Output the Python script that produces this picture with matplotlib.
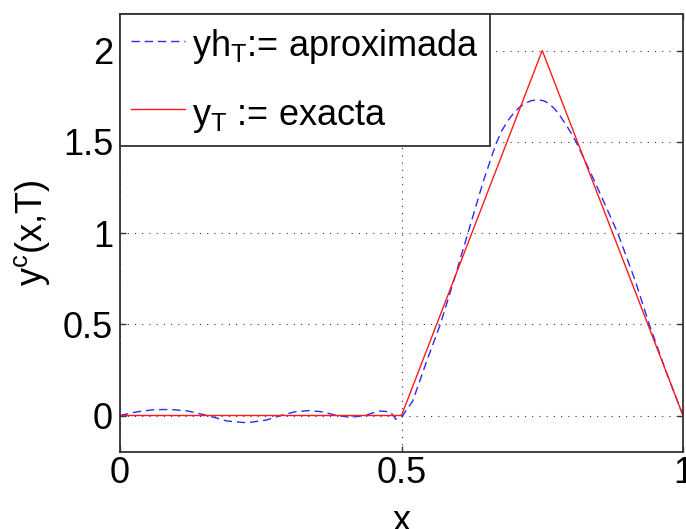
import matplotlib
matplotlib.use('Agg')
import matplotlib.pyplot as plt

plt.rcParams['font.family'] = ['Liberation Sans', 'DejaVu Sans']
plt.rcParams['mathtext.fontset'] = 'custom'
plt.rcParams['mathtext.rm'] = 'Liberation Sans'
plt.rcParams['mathtext.it'] = 'Liberation Sans'
plt.rcParams['mathtext.bf'] = 'Liberation Sans'

# exact solution (triangle)
x_exact = [0.0, 0.5, 0.75, 1.0]
y_exact = [0.0, 0.0, 2.0, 0.0]

# approximate solution
x_approx = [0.0, 0.03, 0.06, 0.09, 0.12, 0.155, 0.19, 0.225, 0.26, 0.285,
            0.31, 0.335, 0.36, 0.385, 0.41, 0.435, 0.46, 0.48, 0.49, 0.5,
            0.52, 0.545, 0.569, 0.595, 0.618, 0.645, 0.658, 0.668, 0.678, 0.69,
            0.70, 0.71, 0.72, 0.73, 0.741, 0.752, 0.762, 0.772, 0.782, 0.795,
            0.81, 0.845, 0.884, 0.915, 0.94, 0.97, 1.0]
y_approx = [0.0, 0.02, 0.032, 0.033, 0.025, 0.0, -0.03, -0.04, -0.025, 0.0,
            0.02, 0.027, 0.02, 0.0, -0.01, 0.0, 0.025, 0.02, -0.02, -0.01,
            0.08, 0.3, 0.5, 0.76, 1.0, 1.28, 1.40, 1.49, 1.56, 1.62,
            1.66, 1.69, 1.71, 1.725, 1.73, 1.725, 1.71, 1.68, 1.64, 1.58,
            1.5, 1.27, 1.0, 0.74, 0.5, 0.24, 0.0]

x_ticks = [0, 0.5, 1]
x_ticklabels = ['0', '0.5', '1']
y_ticks = [0, 0.5, 1, 1.5, 2]
y_ticklabels = ['0', '0.5', '1', '1.5', '2']

fig = plt.figure(figsize=(6.86, 5.29), dpi=100)
ax = fig.add_axes([120/686, 1 - 452/529, 563/686, 438/529])

ax.plot(x_approx, y_approx, color='#2a2aff', lw=1.0, dashes=(6, 3.5),
        label=r'yh$_T$:= aproximada')
ax.plot(x_exact, y_exact, color='#ff1a1a', lw=1.0, label=r'y$_T$ := exacta')

ax.set_xlim(0, 1)
ax.set_ylim(-0.2, 2.2)
ax.set_xticks(x_ticks)
ax.set_xticklabels(x_ticklabels)
ax.set_yticks(y_ticks)
ax.set_yticklabels(y_ticklabels)

ax.grid(True, color='#333333', linestyle=(0, (1, 5.5)), linewidth=0.8)
ax.set_axisbelow(True)

for s in ax.spines.values():
    s.set_color('#333333')
    s.set_linewidth(1.3)
ax.tick_params(direction='in', length=4.5, width=1, color='#333333',
               top=True, right=True, labelsize=26)
ax.tick_params(axis='x', pad=3)
ax.tick_params(axis='y', pad=5)

ax.set_xlabel('x', fontsize=26, labelpad=9)
ax.set_ylabel(r'y$^c$(x,T)', fontsize=26, labelpad=8)

leg = ax.legend(loc='upper left', bbox_to_anchor=(0, 1), borderaxespad=0,
                fontsize=26, fancybox=False, framealpha=1, edgecolor='#333333',
                handlelength=1.5, handletextpad=0.2, borderpad=0.3,
                labelspacing=0.75, handleheight=1.28)
leg.get_frame().set_linewidth(1.3)

fig.savefig('out.png', dpi=100)
